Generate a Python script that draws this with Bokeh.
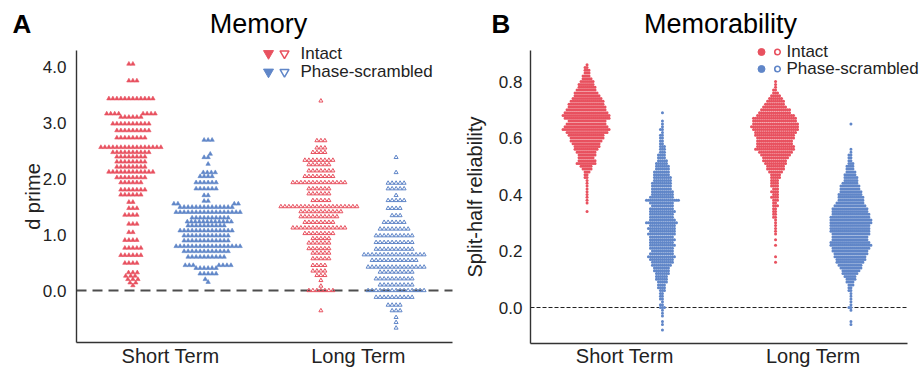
import numpy as np
from bokeh.plotting import figure
from bokeh.models import Label, FixedTicker, Range1d, NumeralTickFormatter, LinearAxis
from bokeh.embed import file_html
from bokeh.resources import INLINE

categories = ["Short Term", "Long Term"]
series = ["Intact", "Phase-scrambled"]
RED = "#e8515f"
BLUE = "#6086c8"
FONT = "Liberation Sans"

# ---------------- Panel A: d prime (value, count of participants) ----------------
a_st_intact_vals = [4.05, 3.75, 3.43, 3.16, 3.10, 2.98, 2.86, 2.73, 2.56, 2.47, 2.39, 2.30, 2.21, 2.12,
                    2.02, 1.93, 1.80, 1.71, 1.58, 1.47, 1.35, 1.19, 1.04, 0.90, 0.76, 0.63, 0.49,
                    0.32, 0.26, 0.20, 0.14, 0.09]
a_st_intact_counts = [2, 3, 12, 8, 6, 10, 9, 8, 16, 10, 8, 8, 8, 12,
                      8, 6, 7, 6, 2, 3, 4, 3, 2, 4, 5, 6, 4,
                      3, 3, 3, 2, 1]

a_st_scr_vals = [2.69, 2.44, 2.38, 2.26, 2.11, 2.04, 1.93, 1.82, 1.70, 1.60, 1.55, 1.49, 1.40, 1.30,
                 1.23, 1.16, 1.07, 0.98, 0.89, 0.79, 0.70, 0.60, 0.45, 0.40, 0.30, 0.20, 0.15]
a_st_scr_counts = [3, 1, 2, 1, 4, 4, 6, 6, 2, 2, 4, 14, 17, 10,
                   12, 10, 14, 12, 12, 17, 12, 10, 7, 6, 5, 1, 1]

a_lt_intact_vals = [3.39, 2.68, 2.55, 2.47, 2.33, 2.25, 2.14, 2.04, 1.93, 1.82, 1.73, 1.61, 1.50, 1.41,
                    1.32, 1.22, 1.12, 1.02, 0.93, 0.85, 0.75, 0.67, 0.57, 0.45, 0.35, 0.27, 0.18,
                    0.08, 0.00, -0.36]
a_lt_intact_counts = [1, 3, 3, 4, 8, 6, 7, 8, 14, 6, 6, 5, 20, 11,
                      10, 8, 14, 8, 5, 6, 6, 5, 5, 4, 4, 3, 1,
                      1, 7, 1]

a_lt_scr_vals = [2.38, 2.11, 1.92, 1.82, 1.70, 1.61, 1.47, 1.34, 1.22, 1.10, 0.98, 0.86, 0.74, 0.64,
                 0.54, 0.42, 0.33, 0.21, 0.10, 0.00, -0.12, -0.26, -0.36, -0.48, -0.57, -0.67]
a_lt_scr_counts = [1, 1, 5, 5, 1, 5, 4, 3, 6, 8, 10, 10, 10, 16,
                   12, 15, 9, 10, 9, 15, 10, 4, 3, 1, 1, 1]

a_ticks = [0, 1, 2, 3, 4]

# ---------------- Panel B: split-half reliability, counts per 0.01 bin ----------------
b_step = 0.01
b_st_intact_start = 0.34
b_st_intact_counts = [1, 0, 0, 1, 1, 1, 1, 1, 1, 1, 1, 1, 2, 2, 3, 5, 6, 10, 9, 8, 9, 10,
                      12, 13, 14, 16, 17, 18, 21, 24, 22, 20, 19, 23, 24, 22, 20, 19, 18, 17,
                      15, 13, 12, 10, 9, 8, 7, 5, 4, 3, 3, 2, 1]
b_st_scr_start = -0.08
b_st_scr_counts = [1, 0, 1, 1, 0, 1, 1, 1, 3, 2, 1, 2, 2, 2, 3, 4, 4, 5, 6, 6, 7, 8, 8, 10,
                   11, 12, 14, 12, 11, 12, 13, 12, 13, 12, 14, 13, 14, 13, 16, 13, 12, 12, 13,
                   12, 11, 12, 17, 12, 11, 11, 10, 10, 10, 9, 9, 8, 8, 7, 7, 6, 5, 4, 4, 3,
                   3, 3, 2, 2, 2, 2, 1, 2, 1, 1, 1, 0, 0, 1]
b_lt_intact_start = 0.16
b_lt_intact_counts = [1, 0, 1, 0, 0, 0, 1, 0, 1, 0, 1, 1, 1, 1, 1, 1, 2, 2, 2, 2, 3, 2, 3, 4,
                      3, 4, 3, 4, 4, 4, 5, 5, 7, 9, 9, 11, 12, 13, 15, 17, 20, 19, 18, 18, 19,
                      20, 21, 23, 24, 23, 22, 22, 19, 16, 15, 12, 10, 9, 7, 5, 3, 2, 1, 1, 1]
b_lt_scr_start = -0.06
b_lt_scr_counts = [1, 1, 0, 0, 0, 1, 2, 1, 1, 1, 1, 1, 2, 2, 3, 4, 5, 6, 8, 9, 11, 12, 14,
                   15, 16, 17, 18, 19, 21, 20, 18, 18, 19, 20, 20, 20, 21, 21, 20, 19, 18, 18,
                   16, 14, 13, 13, 12, 11, 10, 10, 8, 7, 7, 6, 5, 4, 4, 3, 2, 2, 2, 1, 1, 0,
                   0, 0, 0, 0, 0, 0, 0, 1]
b_ticks = [0.0, 0.2, 0.4, 0.6, 0.8]

# ---------------- geometry (canvas pixels) ----------------
W, H = 921, 367
DODGE = 0.2


class Panel:
    """Maps canvas pixels of one panel to its own data ranges."""
    def __init__(self, spine_x, x_px_unit, y_zero_px, y_px_unit, spine_top, spine_bot):
        self.xpx, self.ypx = x_px_unit, y_px_unit
        self.x0 = -0.5 - spine_x / x_px_unit
        self.x1 = self.x0 + W / x_px_unit
        self.ytop = y_zero_px / y_px_unit
        self.ybot = self.ytop - H / y_px_unit
        self.spine_top, self.spine_bot = spine_top, spine_bot

    def xd(self, fx):
        return self.x0 + fx / self.xpx

    def yd(self, fy):
        return self.ytop - fy / self.ypx


gA = Panel(76, 188.0, 290, 55.94, 50, 342)
gB = Panel(530, 188.5, 307, 282.4, 50, 342.5)


def swarm(vals, ypx, xpx, d):
    y = np.asarray(vals, float) * ypx
    order = np.argsort(y, kind="stable")
    px, py = [], []
    out = np.zeros(len(y))
    for idx in order:
        yi = y[idx]
        nb = []
        j = len(py) - 1
        while j >= 0 and yi - py[j] < d:
            nb.append((px[j], py[j]))
            j -= 1
        cands = [0.0]
        for xx, yy in nb:
            dx = np.sqrt(max(d * d - (yi - yy) ** 2, 0.0))
            cands += [xx - dx, xx + dx]
        cands.sort(key=lambda c: (abs(c), c))
        chosen = 0.0
        for c in cands:
            if all((c - xx) ** 2 + (yi - yy) ** 2 >= d * d - 1e-6 for xx, yy in nb):
                chosen = c
                break
        out[idx] = chosen
        px.append(chosen)
        py.append(yi)
    return out / xpx


p = figure(width=W, height=H, output_backend="svg", toolbar_location=None, title=None,
           x_range=Range1d(gA.x0, gA.x1), y_range=Range1d(gA.ybot, gA.ytop),
           x_axis_location=None, y_axis_location=None,
           min_border=0, min_border_left=0, min_border_right=0,
           min_border_top=0, min_border_bottom=0)
p.extra_x_ranges = {"B": Range1d(gB.x0, gB.x1)}
p.extra_y_ranges = {"B": Range1d(gB.ybot, gB.ytop)}
p.outline_line_color = None
p.background_fill_color = "white"
p.border_fill_color = "white"
p.xgrid.visible = False
p.ygrid.visible = False


def add_axes(g, rn, ticks, ylabel, tick_standoff, label_standoff):
    kw = {} if rn is None else {"x_range_name": rn, "y_range_name": rn}
    ya = LinearAxis(fixed_location=-0.5, bounds=(g.yd(g.spine_bot), g.yd(g.spine_top)),
                    ticker=FixedTicker(ticks=ticks), formatter=NumeralTickFormatter(format="0.0"),
                    axis_label=ylabel, **kw)
    ya.major_label_standoff = tick_standoff
    ya.axis_label_standoff = label_standoff
    ya.major_label_text_font = FONT
    ya.major_label_text_font_size = "17px"
    ya.major_label_text_color = "#222222"
    ya.axis_label_text_font = FONT
    ya.axis_label_text_font_size = "20px"
    ya.axis_label_text_font_style = "normal"
    ya.axis_label_text_color = "#222222"
    xa = LinearAxis(fixed_location=g.yd(g.spine_bot), bounds=(-0.5, 1.5),
                    ticker=FixedTicker(ticks=[0, 1]), **kw)
    xa.major_label_overrides = {0: categories[0], 1: categories[1]}
    xa.major_label_text_font = FONT
    xa.major_label_text_font_size = "20px"
    xa.major_label_text_color = "#222222"
    xa.major_label_standoff = -4
    for ax in (xa, ya):
        ax.axis_line_color = "#333333"
        ax.axis_line_width = 1.4
        ax.major_tick_line_color = None
        ax.minor_tick_line_color = None
    p.add_layout(ya, "left")
    p.add_layout(xa, "below")


def label(text, x, y, size, rn=None, align="left", base="middle", color="#222222", style="normal"):
    kw = {} if rn is None else {"x_range_name": rn, "y_range_name": rn}
    p.add_layout(Label(x=x, y=y, text=text, text_font=FONT, text_font_size=size,
                       text_align=align, text_baseline=base, text_color=color,
                       text_font_style=style, **kw))


# ---------------- Panel A ----------------
add_axes(gA, None, a_ticks, "d prime", 4, -4)
p.segment(x0=[-0.5], y0=[0], x1=[1.5], y1=[0], line_color="#4d4d4d", line_width=2, line_dash="10 6")

groupsA = [
    (0 - DODGE, a_st_intact_vals, a_st_intact_counts, RED, True),
    (0 + DODGE, a_st_scr_vals, a_st_scr_counts, BLUE, True),
    (1 - DODGE, a_lt_intact_vals, a_lt_intact_counts, RED, False),
    (1 + DODGE, a_lt_scr_vals, a_lt_scr_counts, BLUE, False),
]
for xc, vals, cnts, col, filled in groupsA:
    v = np.repeat(vals, cnts)
    xs = xc + swarm(v, gA.ypx, gA.xpx, 4.0)
    if filled:
        p.scatter(xs, v, marker="triangle", size=4.4, fill_color=col, line_color=col, line_width=0.6)
    else:
        p.scatter(xs, v, marker="triangle", size=4.0, fill_alpha=0, line_color=col, line_width=1.0)

label("A", gA.xd(12), gA.yd(23), "26px", style="bold", color="#000000")
label("Memory", gA.xd(258), gA.yd(23.5), "27px", align="center", color="#000000")

legA_y = [53, 71.5]
for k, (col, name) in enumerate(zip([RED, BLUE], series)):
    yy = gA.yd(legA_y[k])
    p.scatter([gA.xd(268)], [yy], marker="inverted_triangle", size=10,
              fill_color=col, line_color=col, line_width=1)
    p.scatter([gA.xd(284)], [yy], marker="inverted_triangle", size=9,
              fill_alpha=0, line_color=col, line_width=1.5)
    label(name, gA.xd(300), gA.yd(legA_y[k] - 0.5), "17px")

# ---------------- Panel B ----------------
add_axes(gB, "B", b_ticks, "Split-half reliability", 2, 10)
p.segment(x0=[-0.5], y0=[0], x1=[1.5], y1=[0], line_color="#222222", line_width=1,
          line_dash="4 2", x_range_name="B", y_range_name="B")

groupsB = [
    (0 - DODGE, b_st_intact_start, b_st_intact_counts, RED),
    (0 + DODGE, b_st_scr_start, b_st_scr_counts, BLUE),
    (1 - DODGE, b_lt_intact_start, b_lt_intact_counts, RED),
    (1 + DODGE, b_lt_scr_start, b_lt_scr_counts, BLUE),
]
for xc, start, cnts, col in groupsB:
    bins = start + b_step * np.arange(len(cnts))
    v = np.repeat(bins, cnts)
    xs = xc + swarm(v, gB.ypx, gB.xpx, 2.0)
    p.scatter(xs, v, marker="circle", size=3.0, fill_color=col, line_color=None,
              x_range_name="B", y_range_name="B")

label("B", gB.xd(491), gB.yd(23), "26px", rn="B", style="bold", color="#000000")
label("Memorability", gB.xd(720), gB.yd(23.5), "27px", rn="B", align="center", color="#000000")

legB_y = [51.5, 68.5]
for k, (col, name) in enumerate(zip([RED, BLUE], series)):
    yy = gB.yd(legB_y[k])
    p.scatter([gB.xd(761)], [yy], marker="circle", size=7, fill_color=col, line_color=col,
              x_range_name="B", y_range_name="B")
    p.scatter([gB.xd(777)], [yy], marker="circle", size=5.5, fill_alpha=0, line_color=col,
              line_width=1.6, x_range_name="B", y_range_name="B")
    label(name, gB.xd(786), gB.yd(legB_y[k] - 1), "17px", rn="B")

open("out.html", "w").write(file_html(p, INLINE))
